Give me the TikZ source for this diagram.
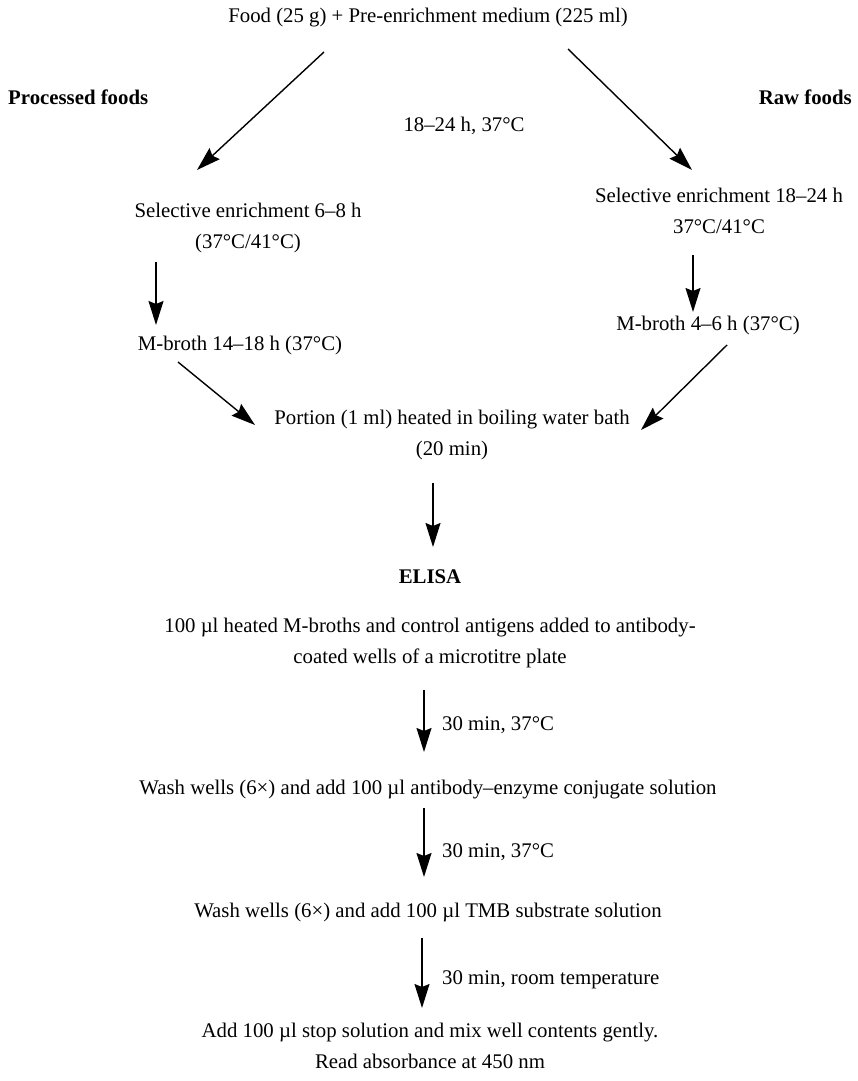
\documentclass[tikz,border=0pt]{standalone}
\usepackage{fontspec}
\setmainfont{Liberation Serif}
\usetikzlibrary{arrows.meta}

\begin{document}
\begin{tikzpicture}[x=1pt,y=-1pt,
    txt/.style={inner sep=0pt,align=center,font=\fontsize{20.8}{31}\selectfont},
    hdr/.style={txt,font=\fontsize{20.8}{31}\selectfont\bfseries},
    flow/.style={line width=1.4pt,-{Stealth[length=24pt,width=15pt,inset=3pt]}}]
        % Paso 1: Fija el marco de la figura
        \useasboundingbox (0,0) rectangle (857,1081);

        % Paso 2: Coloca los textos de la parte superior
        \node[txt] (food) at (428,18) {Food (25 g) + Pre-enrichment medium (225 ml)};
        \node[hdr,anchor=west] (proc) at (8,97) {Processed foods};
        \node[hdr,anchor=east] (raw) at (852,97) {Raw foods};
        \node[txt] (incub) at (464,126) {18--24 h, 37°C};

        % Paso 3: Coloca las dos ramas de enriquecimiento
        \node[txt] (selL) at (248,228) {Selective enrichment 6--8 h\\(37°C/41°C)};
        \node[txt] (selR) at (719,211) {Selective enrichment 18--24 h\\37°C/41°C};
        \node[txt] (mbL) at (240,345) {M-broth 14--18 h (37°C)};
        \node[txt] (mbR) at (708,325) {M-broth 4--6 h (37°C)};
        \node[txt] (heat) at (452,435) {Portion (1 ml) heated in boiling water bath\\(20 min)};

        % Paso 4: Coloca los pasos del ELISA
        \node[hdr] (elisa) at (430,577) {ELISA};
        \node[txt] (load) at (430,643) {100 µl heated M-broths and control antigens added to antibody-\\coated wells of a microtitre plate};
        \node[txt] (washA) at (428,790) {Wash wells (6×) and add 100 µl antibody--enzyme conjugate solution};
        \node[txt] (washB) at (428,912) {Wash wells (6×) and add 100 µl TMB substrate solution};
        \node[txt] (stop) at (430,1046) {Add 100 µl stop solution and mix well contents gently.\\Read absorbance at 450 nm};

        % Paso 5: Rotula las incubaciones del ELISA
        \node[txt,anchor=west] (incA) at (442,725) {30 min, 37°C};
        \node[txt,anchor=west] (incB) at (442,852) {30 min, 37°C};
        \node[txt,anchor=west] (incC) at (442,980) {30 min, room temperature};

        % Paso 6: Dibuja las flechas entre los pasos
        \draw[flow] ([xshift=-104pt,yshift=-34pt]food.center) -- ([xshift=-51pt,yshift=58pt]selL.center);
        \draw[flow] ([xshift=140pt,yshift=-31pt]food.center) -- ([xshift=-27pt,yshift=41pt]selR.center);
        \draw[flow] ([xshift=-92pt,yshift=-34pt]selL.center) -- ([xshift=-84pt,yshift=20pt]mbL.center);
        \draw[flow] ([xshift=-26pt,yshift=-44pt]selR.center) -- ([xshift=-15pt,yshift=13pt]mbR.center);
        \draw[flow] ([xshift=-62pt,yshift=-17pt]mbL.center) -- ([xshift=-197pt,yshift=10pt]heat.center);
        \draw[flow] ([xshift=19pt,yshift=-20pt]mbR.center) -- ([xshift=189pt,yshift=5pt]heat.center);
        \draw[flow] ([xshift=-19pt,yshift=-48pt]heat.center) -- ([xshift=3pt,yshift=30pt]elisa.center);
        \draw[flow] ([xshift=-6pt,yshift=-47pt]load.center) -- ([xshift=-4pt,yshift=38pt]washA.center);
        \draw[flow] ([xshift=-4pt,yshift=-18pt]washA.center) -- ([xshift=-4pt,yshift=35pt]washB.center);
        \draw[flow] ([xshift=-6pt,yshift=-26pt]washB.center) -- ([xshift=-8pt,yshift=38pt]stop.center);
\end{tikzpicture}
\end{document}
